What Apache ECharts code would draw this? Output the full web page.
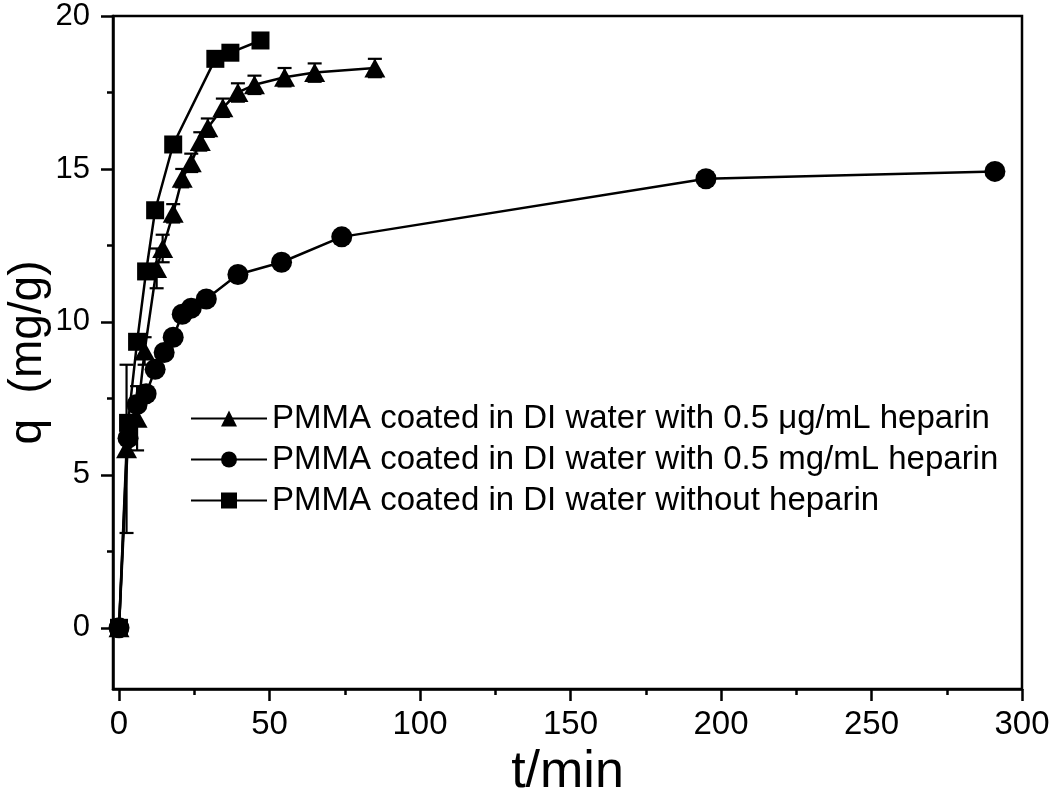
<!DOCTYPE html>
<html><head><meta charset="utf-8">
<script src="https://cdn.jsdelivr.net/npm/echarts@6/dist/echarts.min.js"></script>
<style>html,body{margin:0;padding:0;background:#fff}#c{width:1050px;height:793px}</style>
</head><body><div id="c"></div>
<script>
// ---- data ----
const seriesNames = [
  'PMMA coated in DI water with 0.5 \u03bcg/mL heparin',
  'PMMA coated in DI water with 0.5 mg/mL heparin',
  'PMMA coated in DI water without heparin'
];
const triT   = [0, 2.5, 6, 8.5, 12.5, 14.5, 18, 21, 24, 27, 29.5, 34.5, 39.5, 45, 55, 65, 85];
const triQ   = [0, 5.85, 6.85, 9.05, 11.75, 12.4, 13.55, 14.7, 15.2, 15.9, 16.35, 17.0, 17.5, 17.75, 18.0, 18.15, 18.3];
const triErr = [0, 2.75, 1.05, 0.45, 0.65, 0.45, 0.3, 0.3, 0.3, 0.3, 0.3, 0.3, 0.3, 0.3, 0.3, 0.3, 0.3];
const cirT   = [0, 3, 6, 9, 12, 15, 18, 21, 24, 29, 39.5, 54, 74, 195, 291];
const cirQ   = [0, 6.2, 7.3, 7.65, 8.45, 9.0, 9.5, 10.25, 10.45, 10.75, 11.55, 11.95, 12.78, 14.68, 14.92];
const sqT    = [0, 3, 6, 9, 12, 18, 32, 37, 47];
const sqQ    = [0, 6.7, 9.35, 11.65, 13.65, 15.8, 18.6, 18.8, 19.2];
const xMajor = [0, 50, 100, 150, 200, 250, 300];
const xMinor = [25, 75, 125, 175, 225, 275];
const yMajor = [0, 5, 10, 15, 20];
const yMinor = [-2.5, 2.5, 7.5, 12.5, 17.5];
const xTitle = 't/min';
const yTitle = 'q  (mg/g)';

const zip = (a, b) => a.map((v, i) => [v, b[i]]);
const font = 'Liberation Sans, Arial, Helvetica, sans-serif';

const chart = echarts.init(document.getElementById('c'));
chart.setOption({
  animation: false,
  backgroundColor: '#fff',
  grid: { left: 113, top: 16, right: 28, bottom: 104, show: true, borderColor: '#000', borderWidth: 2.5,
          containLabel: false, outerBoundsMode: 'none' },
  legend: {
    orient: 'vertical', left: 185, top: 397,
    itemWidth: 76, itemHeight: 20, itemGap: 8,
    textStyle: { fontFamily: font, fontSize: 33, color: '#000', padding: [0, 0, 0, 0] },
    data: seriesNames
  },
  xAxis: [
    { type: 'value', min: -2, max: 300, position: 'bottom',
      axisLine: { onZero: false, lineStyle: { color: '#000', width: 2.5 } },
      axisTick: { show: true, inside: false, length: 12, customValues: xMajor, lineStyle: { color: '#000', width: 2.5 } },
      axisLabel: { customValues: xMajor, fontFamily: font, fontSize: 33, color: '#000', margin: 19 },
      splitLine: { show: false },
      name: xTitle, nameLocation: 'middle', nameGap: 58,
      nameTextStyle: { fontFamily: font, fontSize: 52, color: '#000' } },
    { type: 'value', min: -2, max: 300, position: 'bottom',
      axisLine: { show: false, onZero: false },
      axisTick: { show: true, length: 6, customValues: xMinor, lineStyle: { color: '#000', width: 2.5 } },
      axisLabel: { show: false }, splitLine: { show: false } }
  ],
  yAxis: [
    { type: 'value', min: -2, max: 20, position: 'left',
      axisLine: { onZero: false, lineStyle: { color: '#000', width: 2.5 } },
      axisTick: { show: true, length: 12, customValues: yMajor, lineStyle: { color: '#000', width: 2.5 } },
      axisLabel: { customValues: yMajor, fontFamily: font, fontSize: 31, color: '#000', margin: 23 },
      splitLine: { show: false },
      name: yTitle, nameLocation: 'middle', nameGap: 62, nameRotate: 90, nameMoveOverlap: false,
      nameTextStyle: { fontFamily: font, fontSize: 46, color: '#000' } },
    { type: 'value', min: -2, max: 20, position: 'left',
      axisLine: { show: false, onZero: false },
      axisTick: { show: true, length: 6, customValues: yMinor, lineStyle: { color: '#000', width: 2.5 } },
      axisLabel: { show: false }, splitLine: { show: false } }
  ],
  series: [
    { name: seriesNames[0], type: 'line', data: zip(triT, triQ), symbol: 'triangle', symbolSize: [21, 19],
      itemStyle: { color: '#000' }, lineStyle: { color: '#000', width: 2.5 }, z: 3 },
    { name: seriesNames[1], type: 'line', data: zip(cirT, cirQ), symbol: 'circle', symbolSize: 21,
      itemStyle: { color: '#000' }, lineStyle: { color: '#000', width: 2.5 }, z: 3 },
    { name: seriesNames[2], type: 'line', data: zip(sqT, sqQ), symbol: 'rect', symbolSize: 18,
      itemStyle: { color: '#000' }, lineStyle: { color: '#000', width: 2.5 }, z: 3 },
    { type: 'custom', name: 'err', z: 2,
      data: triT.map((t, i) => [t, triQ[i] - triErr[i], triQ[i] + triErr[i]]),
      renderItem: function (params, api) {
        const lo = api.coord([api.value(0), api.value(1)]);
        const hi = api.coord([api.value(0), api.value(2)]);
        const w = 7;
        const st = { stroke: '#000', lineWidth: 2.2 };
        return { type: 'group', children: [
          { type: 'line', shape: { x1: lo[0], y1: lo[1], x2: hi[0], y2: hi[1] }, style: st },
          { type: 'line', shape: { x1: lo[0] - w, y1: lo[1], x2: lo[0] + w, y2: lo[1] }, style: st },
          { type: 'line', shape: { x1: hi[0] - w, y1: hi[1], x2: hi[0] + w, y2: hi[1] }, style: st }
        ]};
      }
    }
  ]
});
</script>
</body></html>
